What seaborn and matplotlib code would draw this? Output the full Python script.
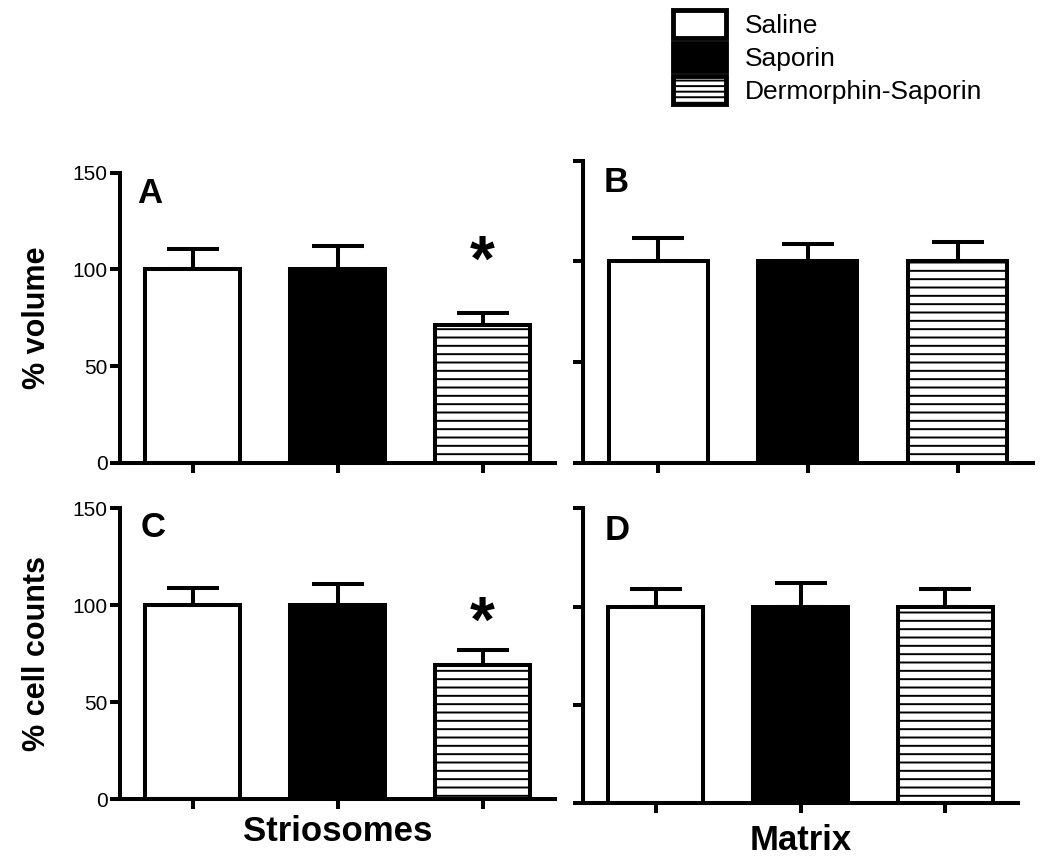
import numpy as np
import pandas as pd
import matplotlib
matplotlib.use("Agg")
import matplotlib.pyplot as plt
import seaborn as sns
from matplotlib.patches import Patch

# ---------------- data ----------------
categories = ["Saline", "Saporin", "Dermorphin-Saporin"]

vol_striosomes = [100, 100, 71]
vol_striosomes_err = [10.4, 12.3, 6.6]

vol_matrix = [100, 100, 100]
vol_matrix_err = [11.4, 8.4, 9.4]

cells_striosomes = [100, 100, 69]
cells_striosomes_err = [8.8, 10.8, 8.0]

cells_matrix = [100, 100, 100]
cells_matrix_err = [8.8, 11.9, 8.8]

panel_letters = ["A", "B", "C", "D"]
star_y_A = 103
star_y_C = 90
y_ticks = [0, 50, 100, 150]

# ---------------- style ----------------
sns.set_style("ticks")
plt.rcParams["font.family"] = ["Liberation Sans", "DejaVu Sans"]
plt.rcParams["hatch.linewidth"] = 1.4
plt.rcParams["hatch.color"] = "black"
for k in ["text.color", "axes.labelcolor", "xtick.color", "ytick.color",
          "axes.edgecolor"]:
    plt.rcParams[k] = "black"

W, H = 1050, 859
fig = plt.figure(figsize=(W / 100, H / 100), dpi=100)

def rect(left, right, top, bottom):
    return [left / W, 1 - bottom / H, (right - left) / W, (bottom - top) / H]

axA = fig.add_axes(rect(120, 555, 172.7, 462.7))
axB = fig.add_axes(rect(583, 1033, 160.5, 462.7))
axC = fig.add_axes(rect(120, 555, 508.3, 799.3))
axD = fig.add_axes(rect(583, 1018, 508.4, 803.3))

fills = ["white", "black", "white"]
LW = 2.9

def panel(ax, vals, errs, letter, lx, ly, show_labels):
    df = pd.DataFrame({"group": categories, "value": vals})
    sns.barplot(data=df, x="group", y="value", hue="group", palette=fills,
                edgecolor="black", linewidth=LW, width=0.66, errorbar=None,
                legend=False, ax=ax, saturation=1)
    for i, p in enumerate(ax.patches):
        if i == 2:
            p.set_hatch("--")
        p.set_zorder(2)
    xs = np.arange(len(vals))
    eb = ax.errorbar(xs, vals, yerr=[np.zeros(len(vals)), errs], fmt="none",
                     ecolor="black", elinewidth=LW, capsize=18.5, capthick=LW,
                     zorder=1)
    for line in eb.lines[1]:
        line.set_solid_capstyle("round")
    for c in eb.lines[2]:
        c.set_capstyle("round")
    ax.set_ylim(0, 150)
    ax.set_xlim(-0.5, 2.5)
    ax.set_yticks(y_ticks)
    if show_labels:
        ax.set_yticklabels([str(t) for t in y_ticks], fontsize=15)
    else:
        ax.set_yticklabels([])
    ax.set_xticks(xs)
    ax.set_xticklabels([])
    ax.set_xlabel("")
    ax.set_ylabel("")
    sns.despine(ax=ax)
    for s in ["left", "bottom"]:
        ax.spines[s].set_linewidth(LW)
        ax.spines[s].set_capstyle("projecting")
    ax.tick_params(axis="both", width=LW, length=7.5, direction="out", pad=1.5,
                   color="black", labelcolor="black")
    ax.set_facecolor("none")
    ax.text(lx, ly, letter, transform=ax.transAxes, fontsize=25,
            fontweight="bold", ha="left", va="baseline")

panel(axA, vol_striosomes, vol_striosomes_err, "A", 0.040, 0.8955, True)
panel(axB, vol_matrix, vol_matrix_err, "B", 0.045, 0.897, False)
panel(axC, cells_striosomes, cells_striosomes_err, "C", 0.047, 0.902, True)
panel(axD, cells_matrix, cells_matrix_err, "D", 0.049, 0.893, False)

axA.set_ylabel("% volume", fontsize=22, fontweight="bold", labelpad=15)
axC.set_ylabel("% cell counts", fontsize=22, fontweight="bold", labelpad=15)
axC.set_xlabel("Striosomes", fontsize=25, fontweight="bold", labelpad=2)
axD.set_xlabel("Matrix", fontsize=25, fontweight="bold", labelpad=6)

# significance stars
axA.text(2, star_y_A, "*", fontsize=46, fontweight="bold", ha="center", va="center")
axC.text(2, star_y_C, "*", fontsize=46, fontweight="bold", ha="center", va="center")

# legend
handles = [Patch(facecolor=f, edgecolor="black", linewidth=3.5,
                 hatch=("---" if i == 2 else None))
           for i, f in enumerate(fills)]
fig.legend(handles, categories, loc="upper left",
           bbox_to_anchor=(673 / W, 1 - 10 / H), frameon=False,
           fontsize=19, handlelength=2.0, handleheight=1.25,
           labelspacing=0.2, handletextpad=0.72, borderpad=0,
           borderaxespad=0)

fig.savefig("out.png", dpi=100, facecolor="white")
